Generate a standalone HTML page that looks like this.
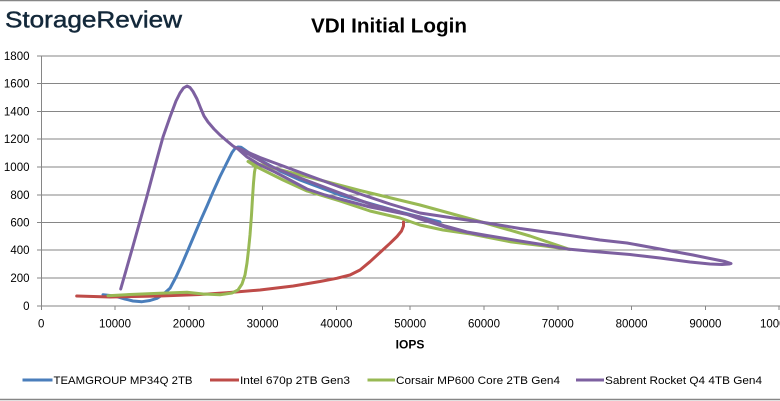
<!DOCTYPE html>
<html><head><meta charset="utf-8"><style>
html,body{margin:0;padding:0;background:#fff;}
svg{display:block;}
text{font-family:"Liberation Sans",Arial,sans-serif;}
</style></head><body>
<svg width="780" height="401" viewBox="0 0 780 401" xmlns="http://www.w3.org/2000/svg">
<rect x="0" y="0" width="780" height="401" fill="#fff"/>
<line x1="0" y1="0.5" x2="780" y2="0.5" stroke="#868686" stroke-width="1.5"/>
<line x1="0" y1="399.5" x2="780" y2="399.5" stroke="#868686" stroke-width="1.5"/>

<text x="5" y="27.3" font-size="22.7" fill="#13283a" stroke="#13283a" stroke-width="0.45" textLength="177" lengthAdjust="spacingAndGlyphs">StorageReview</text>
<text x="311" y="32.5" font-size="20.5" font-weight="bold" fill="#000" textLength="156" lengthAdjust="spacingAndGlyphs">VDI Initial Login</text>

<g stroke="#868686" stroke-width="1" shape-rendering="crispEdges">
<line x1="37" y1="56" x2="780" y2="56"/>
<line x1="37" y1="83.5" x2="780" y2="83.5"/>
<line x1="37" y1="111.5" x2="780" y2="111.5"/>
<line x1="37" y1="139" x2="780" y2="139"/>
<line x1="37" y1="167" x2="780" y2="167"/>
<line x1="37" y1="195" x2="780" y2="195"/>
<line x1="37" y1="222.5" x2="780" y2="222.5"/>
<line x1="37" y1="250" x2="780" y2="250"/>
<line x1="37" y1="278" x2="780" y2="278"/>
<line x1="37" y1="306" x2="780" y2="306"/>
<line x1="41.5" y1="56" x2="41.5" y2="310"/>
<line x1="115" y1="306" x2="115" y2="310"/>
<line x1="188.8" y1="306" x2="188.8" y2="310"/>
<line x1="262.6" y1="306" x2="262.6" y2="310"/>
<line x1="336.4" y1="306" x2="336.4" y2="310"/>
<line x1="410.2" y1="306" x2="410.2" y2="310"/>
<line x1="484" y1="306" x2="484" y2="310"/>
<line x1="557.8" y1="306" x2="557.8" y2="310"/>
<line x1="631.6" y1="306" x2="631.6" y2="310"/>
<line x1="705.4" y1="306" x2="705.4" y2="310"/>
<line x1="779.2" y1="306" x2="779.2" y2="310"/>
</g>

<g font-size="11.5" fill="#000" text-anchor="end">
<text x="29.5" y="60">1800</text>
<text x="29.5" y="87.5">1600</text>
<text x="29.5" y="115.5">1400</text>
<text x="29.5" y="143">1200</text>
<text x="29.5" y="171">1000</text>
<text x="29.5" y="199">800</text>
<text x="29.5" y="226.5">600</text>
<text x="29.5" y="254">400</text>
<text x="29.5" y="282">200</text>
<text x="29.5" y="310">0</text>
</g>
<g font-size="11.5" fill="#000" text-anchor="middle">
<text x="41.2" y="327.5">0</text>
<text x="115" y="327.5">10000</text>
<text x="188.8" y="327.5">20000</text>
<text x="262.6" y="327.5">30000</text>
<text x="336.4" y="327.5">40000</text>
<text x="410.2" y="327.5">50000</text>
<text x="484" y="327.5">60000</text>
<text x="557.8" y="327.5">70000</text>
<text x="631.6" y="327.5">80000</text>
<text x="705.4" y="327.5">90000</text>
<text x="779.2" y="327.5">100000</text>
</g>
<text x="410" y="348.3" font-size="12" font-weight="bold" fill="#000" text-anchor="middle">IOPS</text>

<g fill="none" stroke-width="3" stroke-linejoin="round" stroke-linecap="round">
<polyline stroke="#4A7EBB" points="103,294.7 110,295.5 117,296.7 125,299 133,301 142,301.7 150,300.5 157,298.3 163,294.5 170,288.3 176,277 182,264 188,250 195,233.5 200,221.7 207,206 213,192 220,176.5 227,162.5 232,152.5 235,148.5 238,147 241,147.2 245,150 252,155 262,161 280,171 300,180 340,195 400,212 440,222"/>
<polyline stroke="#BE4B48" points="76.7,296 110,297 160,296 200,294.5 226.7,292.7 260,290 293.3,286 320,281.5 336.7,278.3 350,275 360,270 370,261.7 380,252.5 390,243.3 397,236.5 401.5,231 403.5,226 403.5,222"/>
<polyline stroke="#98B954" points="108,295.7 130,294.5 160,293.3 187,292.3 203,294 220,294.8 232,293 238,290 242,284 245,275 247,263 248.5,250 250,235 251.5,215 252.5,198 253.5,183 254.5,172 255.5,167 252,164 248,161.5 283,170.5 320,180 360,190.5 420,205 480,221.5 530,236 570,249.5 545,246 510,241.7 471,234 443,230 420,225 400,218 370,211 340,201 307,191 283,180 265,171 256,166.5"/>
<polyline stroke="#7D60A0" points="120.7,289 127,267 133,246 140,221 147,196 155,166 163,137 170,117 176,101 180,93 183.5,88 187,86 190,87.5 193,91.5 197,99 201,109 204,116 208,122 214,129 220,135 227,141 233,146 238,149 247,157 260,165 275,172 290,180 307,189 325,195 340,199 370,207 400,213 420,217 445,226 467,232 487,235.5 520,241 545,245 567,249 600,252 630,254.5 660,258 690,262 710,264 722,264.5 729,264 731,263.5 725,261.5 710,258.5 693,255 660,249 627,243 600,240 560,234 520,228.5 487,223 450,217.5 420,213 390,204 360,194 340,187 310,176 283,166 260,157.5 245,151 238,148 250,155 270,166 300,178 340,193 373,205 400,212 420,219 445,227 466,232 487,236"/>
</g>

<g stroke-width="3">
<line x1="22.5" y1="380" x2="52.5" y2="380" stroke="#4A7EBB"/>
<line x1="210" y1="380" x2="239" y2="380" stroke="#BE4B48"/>
<line x1="367.5" y1="380" x2="395" y2="380" stroke="#98B954"/>
<line x1="576" y1="380" x2="604" y2="380" stroke="#7D60A0"/>
</g>
<g font-size="11" fill="#000">
<text x="53.5" y="384" textLength="139" lengthAdjust="spacingAndGlyphs">TEAMGROUP MP34Q 2TB</text>
<text x="240" y="384" textLength="110" lengthAdjust="spacingAndGlyphs">Intel 670p 2TB Gen3</text>
<text x="396" y="384" textLength="164" lengthAdjust="spacingAndGlyphs">Corsair MP600 Core 2TB Gen4</text>
<text x="605" y="384" textLength="157" lengthAdjust="spacingAndGlyphs">Sabrent Rocket Q4 4TB Gen4</text>
</g>
</svg>
</body></html>
